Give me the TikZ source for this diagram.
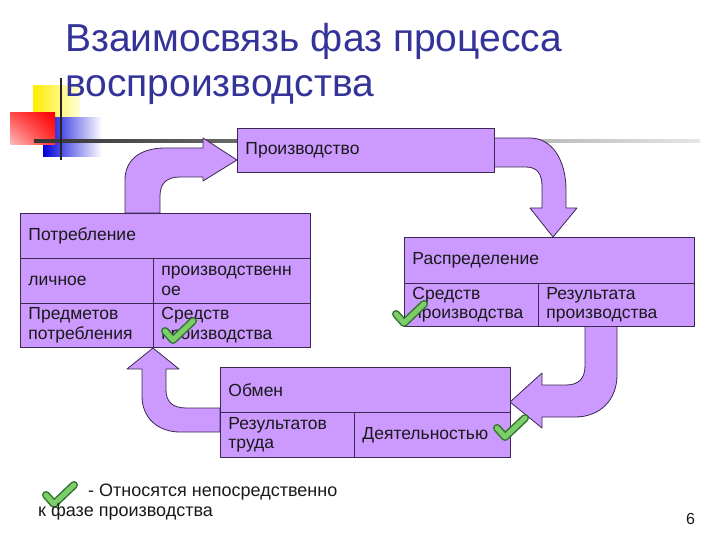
\documentclass[tikz,border=0pt]{standalone}
\usepackage{fontspec}
\setmainfont{Liberation Sans}
\usetikzlibrary{shadings}
\definecolor{cellfill}{RGB}{204,153,255}
\definecolor{cellline}{RGB}{60,40,80}
\definecolor{titleblue}{RGB}{51,51,153}
\definecolor{chkdark}{RGB}{50,115,50}
\definecolor{chklight}{RGB}{125,205,105}
\tikzset{
  cell/.style={draw=cellline, fill=cellfill, line width=0.9pt, anchor=north west,
     inner xsep=8pt, inner ysep=0pt, align=left,
     font=\fontsize{17.5}{19.5}\selectfont, text=black!90},
  blockarrow/.style={draw=cellline, fill=cellfill, line width=0.8pt, line join=round},
  chk/.pic={
    \draw[chkdark, line width=8pt, line cap=round, line join=round] (-13,0) -- (-5,9) -- (15,-10);
    \draw[chklight, line width=5pt, line cap=round, line join=round] (-13,0) -- (-5,9) -- (15,-10);
  }
}
\begin{document}
\begin{tikzpicture}[x=1pt,y=-1pt]
\useasboundingbox (0,0) rectangle (720,540);

% decoration
\shade[left color=yellow!85!orange, right color=yellow!15] (33,86) rectangle (80,118);
\shade[left color=blue!85!black, right color=white] (43,118) rectangle (102,157);
\shade[upper right=red, lower left=red!25, upper left=red!70, lower right=red!80] (10,113) rectangle (55,145);
\shade[left color=black!80, right color=black!10] (34,140) rectangle (700,142.5);
\draw[black!85, line width=2.5pt] (61,78) -- (61,160);

% title
\node[anchor=base west, text=titleblue, font=\fontsize{39}{44}\selectfont, inner sep=0pt] (t1) at (65,52) {Взаимосвязь фаз процесса};
\node[anchor=base west, text=titleblue, font=\fontsize{39}{44}\selectfont, inner sep=0pt] (t2) at (65,97) {воспроизводства};

% block arrows
\draw[blockarrow] (125,213) -- (125,180) .. controls (125,160) and (140,148) .. (165,148) -- (203,148) -- (203,138) -- (237,160) -- (203,181) -- (203,177) -- (180,177) .. controls (166,177) and (160,184) .. (160,196) -- (160,213) -- cycle;
\draw[blockarrow] (494,138) -- (530,138) .. controls (552,138) and (566,160) .. (566,190) -- (566,208) -- (577,208) -- (553,237) -- (530,208) -- (542,208) -- (542,186) .. controls (542,174) and (537,167) .. (526,167) -- (494,167) -- cycle;
\draw[blockarrow] (585,326) -- (585,366) .. controls (585,379) and (578,385) .. (566,385) -- (542,385) -- (542,373) -- (510,402) -- (542,428) -- (542,417) -- (575,417) .. controls (600,417) and (617,400) .. (617,375) -- (617,326) -- cycle;
\draw[blockarrow] (220,408) -- (186,408) .. controls (172,408) and (166,401) .. (166,390) -- (166,369) -- (179,369) -- (153,348) -- (127,369) -- (142,369) -- (142,396) .. controls (142,418) and (158,432) .. (180,432) -- (220,432) -- cycle;

% Производство
\node[cell, minimum width=257pt, minimum height=44pt, text width=241pt] (prod) at (237,128) {Производство};

% Потребление
\node[cell, minimum width=290pt, minimum height=45pt, text width=274pt] (potr) at (20,213) {Потребление};
\node[cell, minimum width=133pt, minimum height=45pt, text width=117pt] (lich) at (20,258) {личное};
\node[cell, minimum width=157pt, minimum height=45pt, text width=141pt] (proizv) at (153,258) {производственн\\ое};
\node[cell, minimum width=133pt, minimum height=44pt, text width=117pt] (predm) at (20,303) {Предметов\\потребления};
\node[cell, minimum width=157pt, minimum height=44pt, text width=141pt] (sredp) at (153,303) {Средств\\производства};

% Распределение
\node[cell, minimum width=290pt, minimum height=46pt, text width=274pt] (rasp) at (404,237) {Распределение};
\node[cell, minimum width=134pt, minimum height=43pt, text width=118pt] (sredr) at (404,283) {Средств\\производства};
\node[cell, minimum width=156pt, minimum height=43pt, text width=140pt] (rezr) at (538,283) {Результата\\производства};

% Обмен
\node[cell, minimum width=290pt, minimum height=45pt, text width=274pt] (obm) at (220,367) {Обмен};
\node[cell, minimum width=134pt, minimum height=45pt, text width=118pt] (rezt) at (220,412) {Результатов\\труда};
\node[cell, minimum width=156pt, minimum height=45pt, text width=140pt] (deyat) at (354,412) {Деятельностью};

% check marks
\pic at (178,331) {chk};
\pic at (409,314) {chk};
\pic at (510,428) {chk};
\pic at (59,495) {chk};

% legend
\node[anchor=base west, inner sep=0pt, font=\fontsize{18}{21}\selectfont, text=black!90] (leg1) at (88,496) {- Относятся непосредственно};
\node[anchor=base west, inner sep=0pt, font=\fontsize{18}{21}\selectfont, text=black!90] (leg2) at (38,516) {к фазе производства};
\node[anchor=base west, inner sep=0pt, font=\fontsize{16}{19}\selectfont, text=black!90] (pg) at (686,524) {6};
\end{tikzpicture}
\end{document}
